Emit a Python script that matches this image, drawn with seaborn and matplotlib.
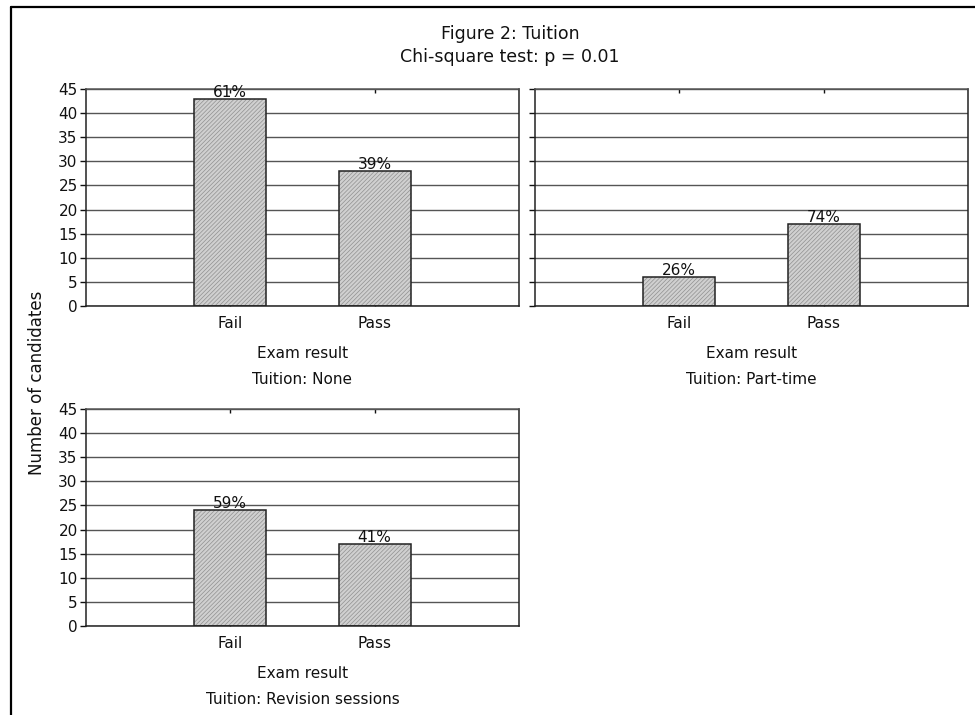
import matplotlib
matplotlib.use("Agg")
import matplotlib.pyplot as plt
import numpy as np
import pandas as pd
import seaborn as sns
from matplotlib.lines import Line2D
from matplotlib.patches import Rectangle

# Data
results = ["Fail", "Pass"]
none_counts = [43, 28]
parttime_counts = [6, 17]
revision_counts = [24, 17]
panel_titles = ["Tuition: None", "Tuition: Part-time", "Tuition: Revision sessions"]
y_ticks = [0, 5, 10, 15, 20, 25, 30, 35, 40, 45]

sns.set_theme(style="white")
plt.rcParams["font.family"] = ["DejaVu Sans"]
plt.rcParams["hatch.linewidth"] = 0.5

W, H = 975, 715
FS = 11
INK = "#111111"
fig = plt.figure(figsize=(W / 100, H / 100), dpi=100)


def px_axes(x0, y0, x1, y1):
    return fig.add_axes([x0 / W, 1 - y1 / H, (x1 - x0) / W, (y1 - y0) / H])


axes = [
    px_axes(86, 89, 519, 306),
    px_axes(535, 89, 968, 306),
    px_axes(86, 409, 519, 626),
]

for i, (ax, counts, title) in enumerate(zip(axes, [none_counts, parttime_counts, revision_counts], panel_titles)):
    df = pd.DataFrame({"result": results, "count": counts})
    sns.barplot(data=df, x="result", y="count", order=results, ax=ax,
                width=0.5, color="#d0d0d0", edgecolor="#909090",
                linewidth=0, hatch="////////", zorder=2)
    total = sum(counts)
    for p, c in zip(ax.patches, counts):
        ax.add_patch(Rectangle((p.get_x(), p.get_y()), p.get_width(), p.get_height(),
                               fill=False, edgecolor="#222222", linewidth=1.1, zorder=3))
        ax.annotate(f"{round(100 * c / total)}%",
                    xy=(p.get_x() + p.get_width() / 2, p.get_height()),
                    xytext=(0, 2), textcoords="offset pixels",
                    ha="center", va="baseline", fontsize=FS, color=INK, zorder=4)

    ax.set_xlim(-1, 2)
    ax.set_ylim(0, 45)
    ax.set_yticks(y_ticks)
    ax.set_axisbelow(True)
    ax.yaxis.grid(True, color="#555555", linewidth=1.0)
    ax.xaxis.grid(False)
    ax.tick_params(axis="y", direction="out", length=4, width=1, left=True,
                   labelsize=FS, colors=INK, pad=2)
    ax.tick_params(axis="x", direction="in", length=3, width=1, bottom=True, top=True,
                   labelsize=FS, colors=INK, pad=7)
    if i == 1:
        ax.tick_params(axis="y", labelleft=False)
    for s in ax.spines.values():
        s.set_color("#222222")
        s.set_linewidth(1.1)
    ax.spines["top"].set_color("#555555")
    ax.set_ylabel("")
    ax.set_xlabel("")
    ax.annotate("Exam result", xy=(0.5, 0), xycoords="axes fraction",
                xytext=(0, -47), textcoords="offset pixels",
                ha="center", va="center", fontsize=FS, color=INK)
    ax.annotate(title, xy=(0.5, 0), xycoords="axes fraction",
                xytext=(0, -73), textcoords="offset pixels",
                ha="center", va="center", fontsize=FS, color=INK)

fig.text(37 / W, 1 - 383 / H, "Number of candidates", rotation=90,
         ha="center", va="center", fontsize=12, color=INK)
fig.text(510 / W, 1 - 39 / H, "Figure 2: Tuition", ha="center", va="baseline",
         fontsize=12.5, color=INK)
fig.text(510 / W, 1 - 62 / H, "Chi-square test: p = 0.01", ha="center", va="baseline",
         fontsize=12.5, color=INK)

# outer frame (left and top edges visible in the reference)
fig.add_artist(Line2D([10.5 / W, 10.5 / W], [0, 1 - 7 / H], color="black", linewidth=1.6))
fig.add_artist(Line2D([10.5 / W, 1], [1 - 7 / H, 1 - 7 / H], color="black", linewidth=1.6))

fig.savefig("out.png", dpi=100)
plt.close(fig)
